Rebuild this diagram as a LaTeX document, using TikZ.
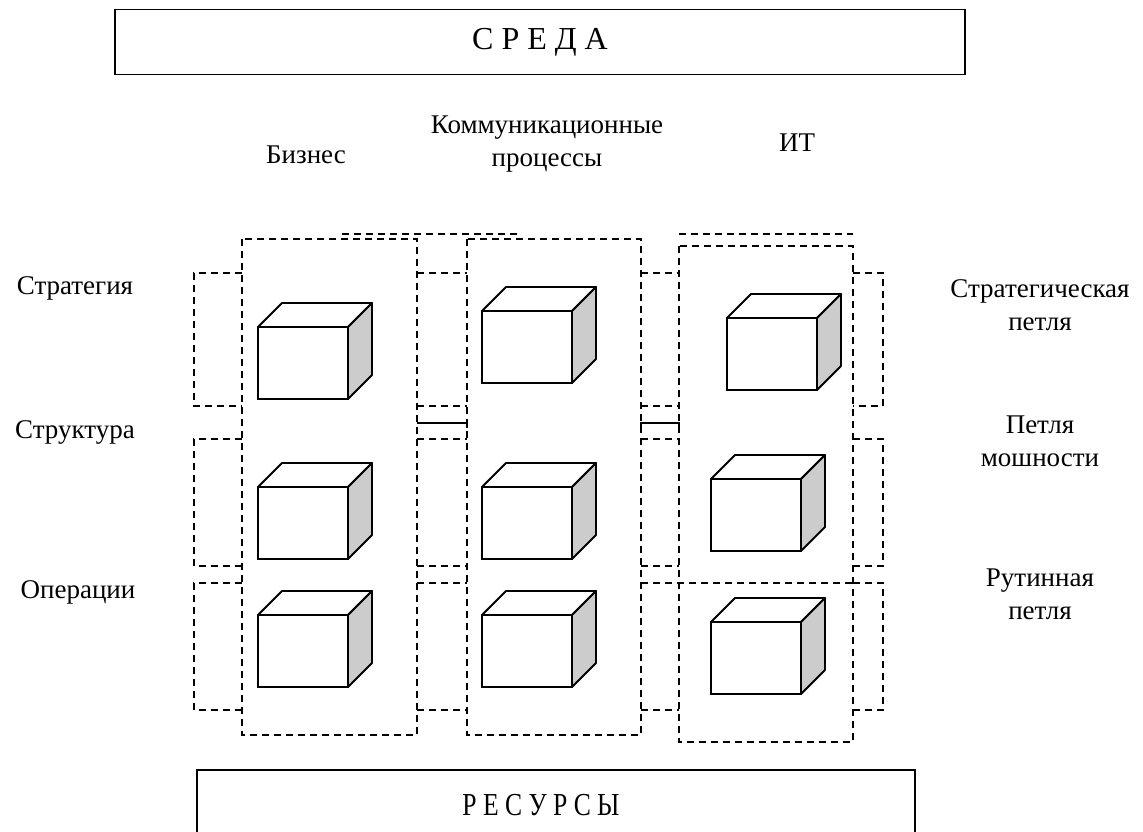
\documentclass[tikz,border=0pt]{standalone}
\usepackage{fontspec}
\setmainfont{Liberation Serif}
\begin{document}
\begin{tikzpicture}[x=1pt, y=-1pt,
    frame/.style={line width=1.4pt, dash pattern=on 7pt off 5pt},
    face/.style={draw, fill=white, line width=1.8pt, minimum width=90pt,
                 minimum height=72pt, inner sep=0pt, outer sep=0pt},
    side/.style={draw, line width=1.8pt, line join=round},
    lbl/.style={font=\fontsize{27}{33}\selectfont, align=center},
    bar/.style={draw, line width=1.5pt, inner sep=0pt,
                font=\fontsize{32}{36}\selectfont}]
    \useasboundingbox (0,0) rectangle (1143,832);
    % outer boxes
    \node[bar, minimum width=850pt, minimum height=65pt] (env) at (540,42) {С Р Е Д А};
    \node[bar, minimum width=718pt, minimum height=70pt] (res) at (556,805)
      {\hspace*{-30pt}\scalebox{0.8}[1]{Р Е С У Р С Ы}};
    % column and row titles
    \node[lbl] (biz)  at (306,155) {Бизнес};
    \node[lbl] (comm) at (547,144) {Коммуникационные\\процессы};
    \node[lbl] (it)   at (797,143) {ИТ};
    \node[lbl] (strat)  at (75,288) {Стратегия};
    \node[lbl] (struct) at (75,432) {Структура};
    \node[lbl] (oper)   at (78,592) {Операции};
    \node[lbl] (sloop) at (1040,305) {Стратегическая\\петля};
    \node[lbl] (ploop) at (1040,441) {Петля\\мошности};
    \node[lbl] (rloop) at (1040,594) {Рутинная\\петля};
    % dashed frames
    \draw[frame] (242,239) rectangle (417,735);
    \draw[frame] (467,239) rectangle (641,735);
    \draw[frame] (679,246) rectangle (853,742);
    \draw[frame] (342,234) -- (517,234);
    \draw[frame] (679,234) -- (853,234);
    \foreach \ya/\yb in {273/406, 439/566, 583/710} {
      \draw[frame] (242,\ya) -- (194,\ya) -- (194,\yb) -- (242,\yb);
      \draw[frame] (853,\ya) -- (883,\ya) -- (883,\yb) -- (853,\yb);
      \foreach \xa/\xb in {417/467, 641/679}
        \draw[frame] (\xa,\ya) -- (\xb,\ya) (\xa,\yb) -- (\xb,\yb);
    }
    \draw[frame] (641,583) -- (853,583);
    \draw[line width=1.4pt] (417,423) -- (467,423) -- (467,428);
    \draw[line width=1.4pt] (641,428) -- (641,423) -- (679,423) -- (679,428);
    % cubes
    \foreach \n/\x/\y in {bs/303/363, bc/303/523, bo/303/651,
                          cs/527/347, cc/527/523, co/527/651,
                          is/772/354, ic/756/515, io/756/658} {
      \node[face] (\n) at (\x,\y) {};
      \draw[side, fill=white] (\n.north west) -- ++(24,-24) -- ++(90,0) -- (\n.north east) -- cycle;
      \draw[side, fill=black!20] (\n.north east) -- ++(24,-24) -- ++(0,72) -- (\n.south east) -- cycle;
    }
\end{tikzpicture}
\end{document}
